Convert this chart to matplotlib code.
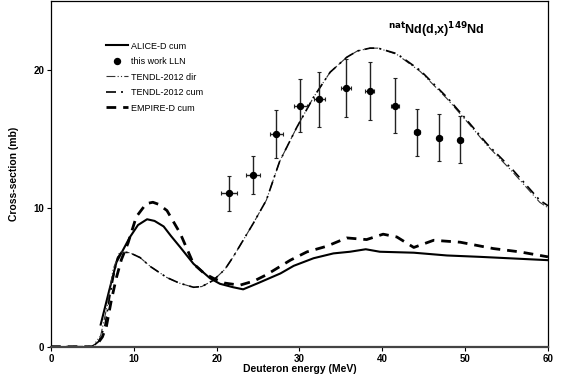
import matplotlib
matplotlib.use("Agg")
import matplotlib.pyplot as plt
from matplotlib.lines import Line2D

plt.rcParams['font.family'] = ['Liberation Sans', 'DejaVu Sans']

# Experimental data (this work LLN)
exp_e = [21.5, 24.4, 27.2, 30.1, 32.4, 35.6, 38.5, 41.5, 44.2, 46.9, 49.4]
exp_cs = [11.1, 12.45, 15.4, 17.45, 17.9, 18.75, 18.5, 17.45, 15.5, 15.1, 14.97]
exp_dcs = [1.27, 1.38, 1.73, 1.95, 2.0, 2.1, 2.1, 2.0, 1.7, 1.7, 1.7]
exp_de = [0.95, 0.85, 0.8, 0.77, 0.7, 0.58, 0.55, 0.5, 0.36, 0.34, 0.3]

# ALICE-D cum
alice_e = [6.0, 7.0, 7.9, 9.5, 10.5, 11.6, 12.5, 13.6, 14.5, 15.6, 17.2, 19.2, 20.4, 22.0, 23.2,
           25.0, 27.7, 29.3, 31.7, 34.1, 36.1, 38.0, 39.7, 43.8, 47.8, 51.8, 60.0]
alice_cs = [1.6, 4.0, 6.1, 7.9, 8.8, 9.22, 9.1, 8.7, 8.0, 7.2, 6.0, 4.95, 4.55, 4.3, 4.15,
            4.6, 5.3, 5.85, 6.4, 6.75, 6.87, 7.05, 6.87, 6.8, 6.6, 6.5, 6.26]

# EMPIRE-D cum
empire_e = [0, 5.0, 5.6, 6.2, 6.7, 7.3, 7.9, 8.5, 9.3, 10.3, 11.5, 12.3, 13.0, 14.0, 15.6, 17.2,
            18.5, 19.6, 21.0, 22.8, 24.5, 26.0, 28.9, 30.9, 33.3, 35.7, 38.1, 40.1, 41.75, 43.8,
            46.2, 49.4, 53.4, 56.6, 60.0]
empire_cs = [0, 0, 0.2, 0.7, 1.5, 3.4, 5.0, 6.3, 7.5, 9.4, 10.35, 10.45, 10.3, 9.85, 8.2, 6.0,
             5.3, 4.95, 4.6, 4.45, 4.75, 5.2, 6.26, 6.86, 7.27, 7.87, 7.75, 8.14, 7.94, 7.18,
             7.7, 7.56, 7.1, 6.86, 6.5]

# TENDL-2012 cum
tcum_e = [0, 5.0, 5.8, 6.5, 7.2, 8.0, 8.5, 9.5, 10.75, 12.0, 14.0, 15.5, 17.2, 18.2, 19.6, 21.0,
          22.0, 24.4, 26.0, 27.6, 29.7, 31.7, 33.7, 35.7, 37.0, 38.5, 39.5, 41.75, 44.6, 47.8,
          50.2, 52.6, 55.8, 59.0, 60.0]
tcum_cs = [0, 0, 0.4, 1.5, 4.0, 6.4, 6.86, 6.8, 6.45, 5.8, 5.0, 4.6, 4.3, 4.35, 4.8, 5.6,
           6.5, 8.9, 10.6, 13.4, 15.9, 18.05, 19.86, 20.94, 21.4, 21.6, 21.6, 21.2, 19.98, 18.05,
           16.4, 14.7, 12.76, 10.6, 10.2]

# TENDL-2012 dir
tdir_e = [0, 5.0, 6.0, 6.8, 7.5, 8.3, 9.5, 10.75, 12.0, 14.0, 15.5, 17.2, 18.2, 19.6, 21.0,
          22.0, 24.4, 26.0, 27.6, 29.7, 31.7, 33.7, 35.7, 37.0, 38.5, 39.5, 41.75, 44.6, 47.8,
          50.2, 52.6, 55.8, 59.0, 60.0]
tdir_cs = [0, 0, 0.8, 3.0, 5.6, 6.86, 6.8, 6.45, 5.8, 5.0, 4.6, 4.3, 4.35, 4.8, 5.6,
           6.5, 8.9, 10.6, 13.4, 15.9, 18.05, 19.86, 20.94, 21.4, 21.6, 21.6, 21.15, 19.9, 17.95,
           16.3, 14.6, 12.6, 10.45, 10.05]

x_ticks = [0, 10, 20, 30, 40, 50, 60]
y_ticks = [0, 10, 20]

fig = plt.figure(figsize=(5.64, 3.85), dpi=100)
ax = fig.add_axes([0.0904, 0.0995, 0.8812, 0.8975])

ax.plot(alice_e, alice_cs, color='black', lw=1.5, ls='-')
ax.plot(tdir_e, tdir_cs, color='#333333', lw=0.8, ls=(0, (8, 2, 1, 2, 1, 2)))
ax.plot(tcum_e, tcum_cs, color='black', lw=1.2, ls=(0, (6, 3, 1.2, 3)))
ax.plot(empire_e, empire_cs, color='black', lw=2.0, ls=(0, (3.5, 2.5)))
ax.errorbar(exp_e, exp_cs, yerr=exp_dcs, xerr=exp_de, fmt='o', color='black',
            ms=4.3, elinewidth=1.0, capsize=1.5, capthick=0.8, ecolor='#222222')

handles = [
    Line2D([], [], color='black', lw=1.5, ls='-'),
    Line2D([], [], color='black', marker='o', ms=4.3, ls='none'),
    Line2D([], [], color='#333333', lw=0.8, ls=(0, (8, 2, 1, 2, 1, 2))),
    Line2D([], [], color='black', lw=1.2, ls=(0, (6, 3, 1.2, 3))),
    Line2D([], [], color='black', lw=2.0, ls=(0, (3.5, 2.5))),
]
labels = ['ALICE-D cum', 'this work LLN', 'TENDL-2012 dir', 'TENDL-2012 cum', 'EMPIRE-D cum']
ax.legend(handles, labels, loc='upper left', bbox_to_anchor=(0.111, 0.883), frameon=False,
          fontsize=6.5, handlelength=2.4, handletextpad=0.3, labelspacing=0.72,
          borderaxespad=0, borderpad=0)

ax.text(46.5, 22.9, r'$\mathbf{^{nat}}$Nd(d,x)$\mathbf{^{149}}$Nd', fontsize=9, fontweight='bold',
        ha='center', va='center')

ax.set_xlim(0, 60)
ax.set_ylim(0, 25)
ax.set_xticks(x_ticks)
ax.set_yticks(y_ticks)
ax.tick_params(direction='out', length=3, width=0.8, labelsize=7, pad=2)
for lab in ax.get_xticklabels() + ax.get_yticklabels():
    lab.set_fontweight('bold')
ax.set_xlabel('Deuteron energy (MeV)', fontsize=7.5, fontweight='bold', labelpad=0.5)
ax.set_ylabel('Cross-section (mb)', fontsize=7.5, fontweight='bold', labelpad=10)
for s in ax.spines.values():
    s.set_linewidth(0.9)
ax.spines['bottom'].set_linewidth(1.6)
ax.spines['bottom'].set_color('#444444')

fig.savefig('out.png', dpi=100)
